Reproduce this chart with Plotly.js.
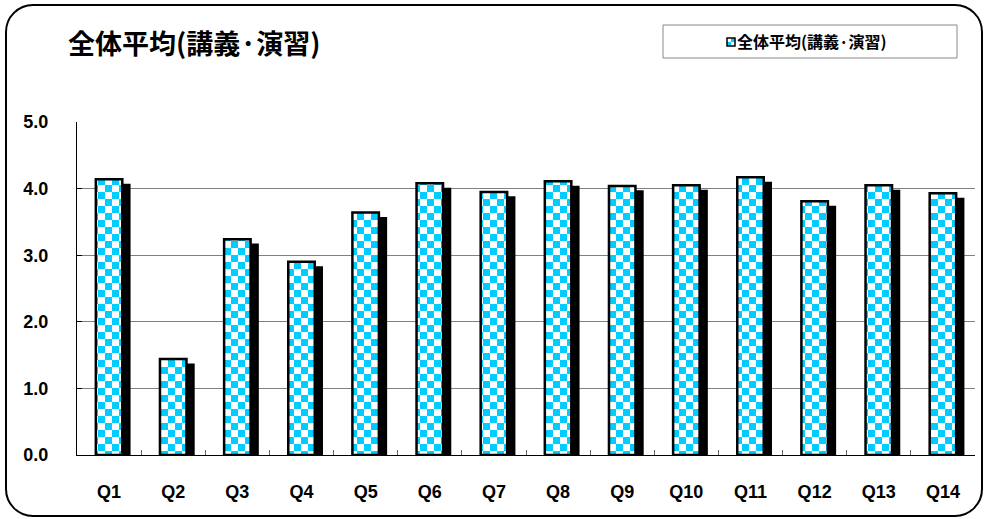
<!DOCTYPE html>
<html>
<head>
<meta charset="utf-8">
<script src="https://cdn.plot.ly/plotly-3.0.1.min.js"></script>
<style>
html,body{margin:0;padding:0;background:#fff;}
#wrap{position:relative;width:986px;height:519px;overflow:hidden;}
#chart{position:absolute;left:0;top:0;width:986px;height:519px;}
#frame{position:absolute;left:5px;top:4px;width:974px;height:509px;border:2px solid #000;border-radius:28px;pointer-events:none;}
</style>
</head>
<body>
<div id="wrap"><div id="chart"></div><div id="frame"></div></div>
<script>
const categories = ["Q1","Q2","Q3","Q4","Q5","Q6","Q7","Q8","Q9","Q10","Q11","Q12","Q13","Q14"];
const values = [4.14,1.44,3.24,2.90,3.64,4.08,3.95,4.11,4.04,4.05,4.17,3.81,4.05,3.93];
const seriesName = "全体平均(講義·演習)";
const chartTitle = "全体平均(講義·演習)";
const yTicks = [0,1,2,3,4,5];

const shadow = {
  type: "bar", x: categories, y: values, base: values.map(() => -0.066),
  width: 0.413, offset: -0.078,
  marker: {color: "#000", line: {width: 0}},
  showlegend: false, hoverinfo: "skip"
};
const main = {
  type: "bar", x: categories, y: values, name: seriesName,
  width: 0.413, offset: -0.2065,
  marker: {
    color: "#00CCFF",
    line: {color: "#000", width: 2.5},
    pattern: {shape: "+", bgcolor: "#00CCFF", fgcolor: "#ffffff", size: 14, solidity: 0.5, fillmode: "replace"}
  }
};

const layout = {
  width: 986, height: 519,
  margin: {l: 77, r: 11, t: 122, b: 64},
  paper_bgcolor: "rgba(0,0,0,0)", plot_bgcolor: "rgba(0,0,0,0)",
  barmode: "overlay",
  font: {family: "Liberation Sans, Arial, sans-serif", color: "#000"},
  title: {
    text: "<b>" + chartTitle + "</b>",
    font: {family: "Noto Sans CJK JP, sans-serif", size: 27, color: "#000"},
    x: 68/986, xanchor: "left", xref: "container",
    y: 1 - 45/519, yanchor: "middle", yref: "container"
  },
  xaxis: {
    type: "category", tickson: "boundaries",
    ticks: "inside", ticklen: 5, tickcolor: "#666", tickwidth: 1,
    showline: true, linecolor: "#000", linewidth: 1,
    showgrid: false, zeroline: false,
    tickfont: {family: "Liberation Sans, Arial, sans-serif", size: 18, color: "#000", weight: "bold"},
    ticklabelstandoff: 20,
    range: [-0.5, 13.5]
  },
  yaxis: {
    range: [0, 5], tickvals: yTicks, ticktext: yTicks.map(v => v.toFixed(1)),
    ticks: "inside", ticklen: 5, tickcolor: "#000", tickwidth: 1,
    showline: true, linecolor: "#000", linewidth: 1,
    showgrid: true, gridcolor: "#808080", gridwidth: 1,
    zeroline: false,
    tickfont: {family: "Liberation Sans, Arial, sans-serif", size: 18, color: "#000", weight: "bold"},
    ticklabelstandoff: 24
  },
  legend: {
    x: (697 - 77) / 898, xanchor: "left", xref: "paper",
    y: (455 - 42) / 333, yanchor: "middle", yref: "paper",
    bgcolor: "rgba(0,0,0,0)", borderwidth: 0,
    font: {family: "Noto Sans CJK JP, sans-serif", size: 16, color: "#000", weight: "bold"},
    itemwidth: 30
  },
  shapes: [{
    type: "rect", xref: "paper", yref: "paper",
    x0: (663 - 77) / 898, x1: (957 - 77) / 898,
    y0: (455 - 58) / 333, y1: (455 - 25) / 333,
    line: {color: "#888", width: 1}, fillcolor: "rgba(0,0,0,0)", layer: "below"
  }],
  showlegend: true
};

Plotly.newPlot("chart", [shadow, main], layout, {displayModeBar: false, staticPlot: true}).then(() => {
  document.querySelectorAll("#chart pattern").forEach(p => {
    p.setAttribute("width", 14);
    p.setAttribute("height", 14);
    p.innerHTML = '<rect width="14" height="14" fill="#00CCFF"/>' +
      '<rect x="0" y="0" width="7" height="7" fill="#ffffff"/>' +
      '<rect x="7" y="7" width="7" height="7" fill="#ffffff"/>';
  });
  document.querySelectorAll("#chart .legendpoints path").forEach(p => {
    p.setAttribute("d", "M4,4H-4V-4H4Z");
    p.setAttribute("transform", "translate(34,0)");
    p.style.strokeWidth = "1.5px";
  });
});
</script>
</body>
</html>
